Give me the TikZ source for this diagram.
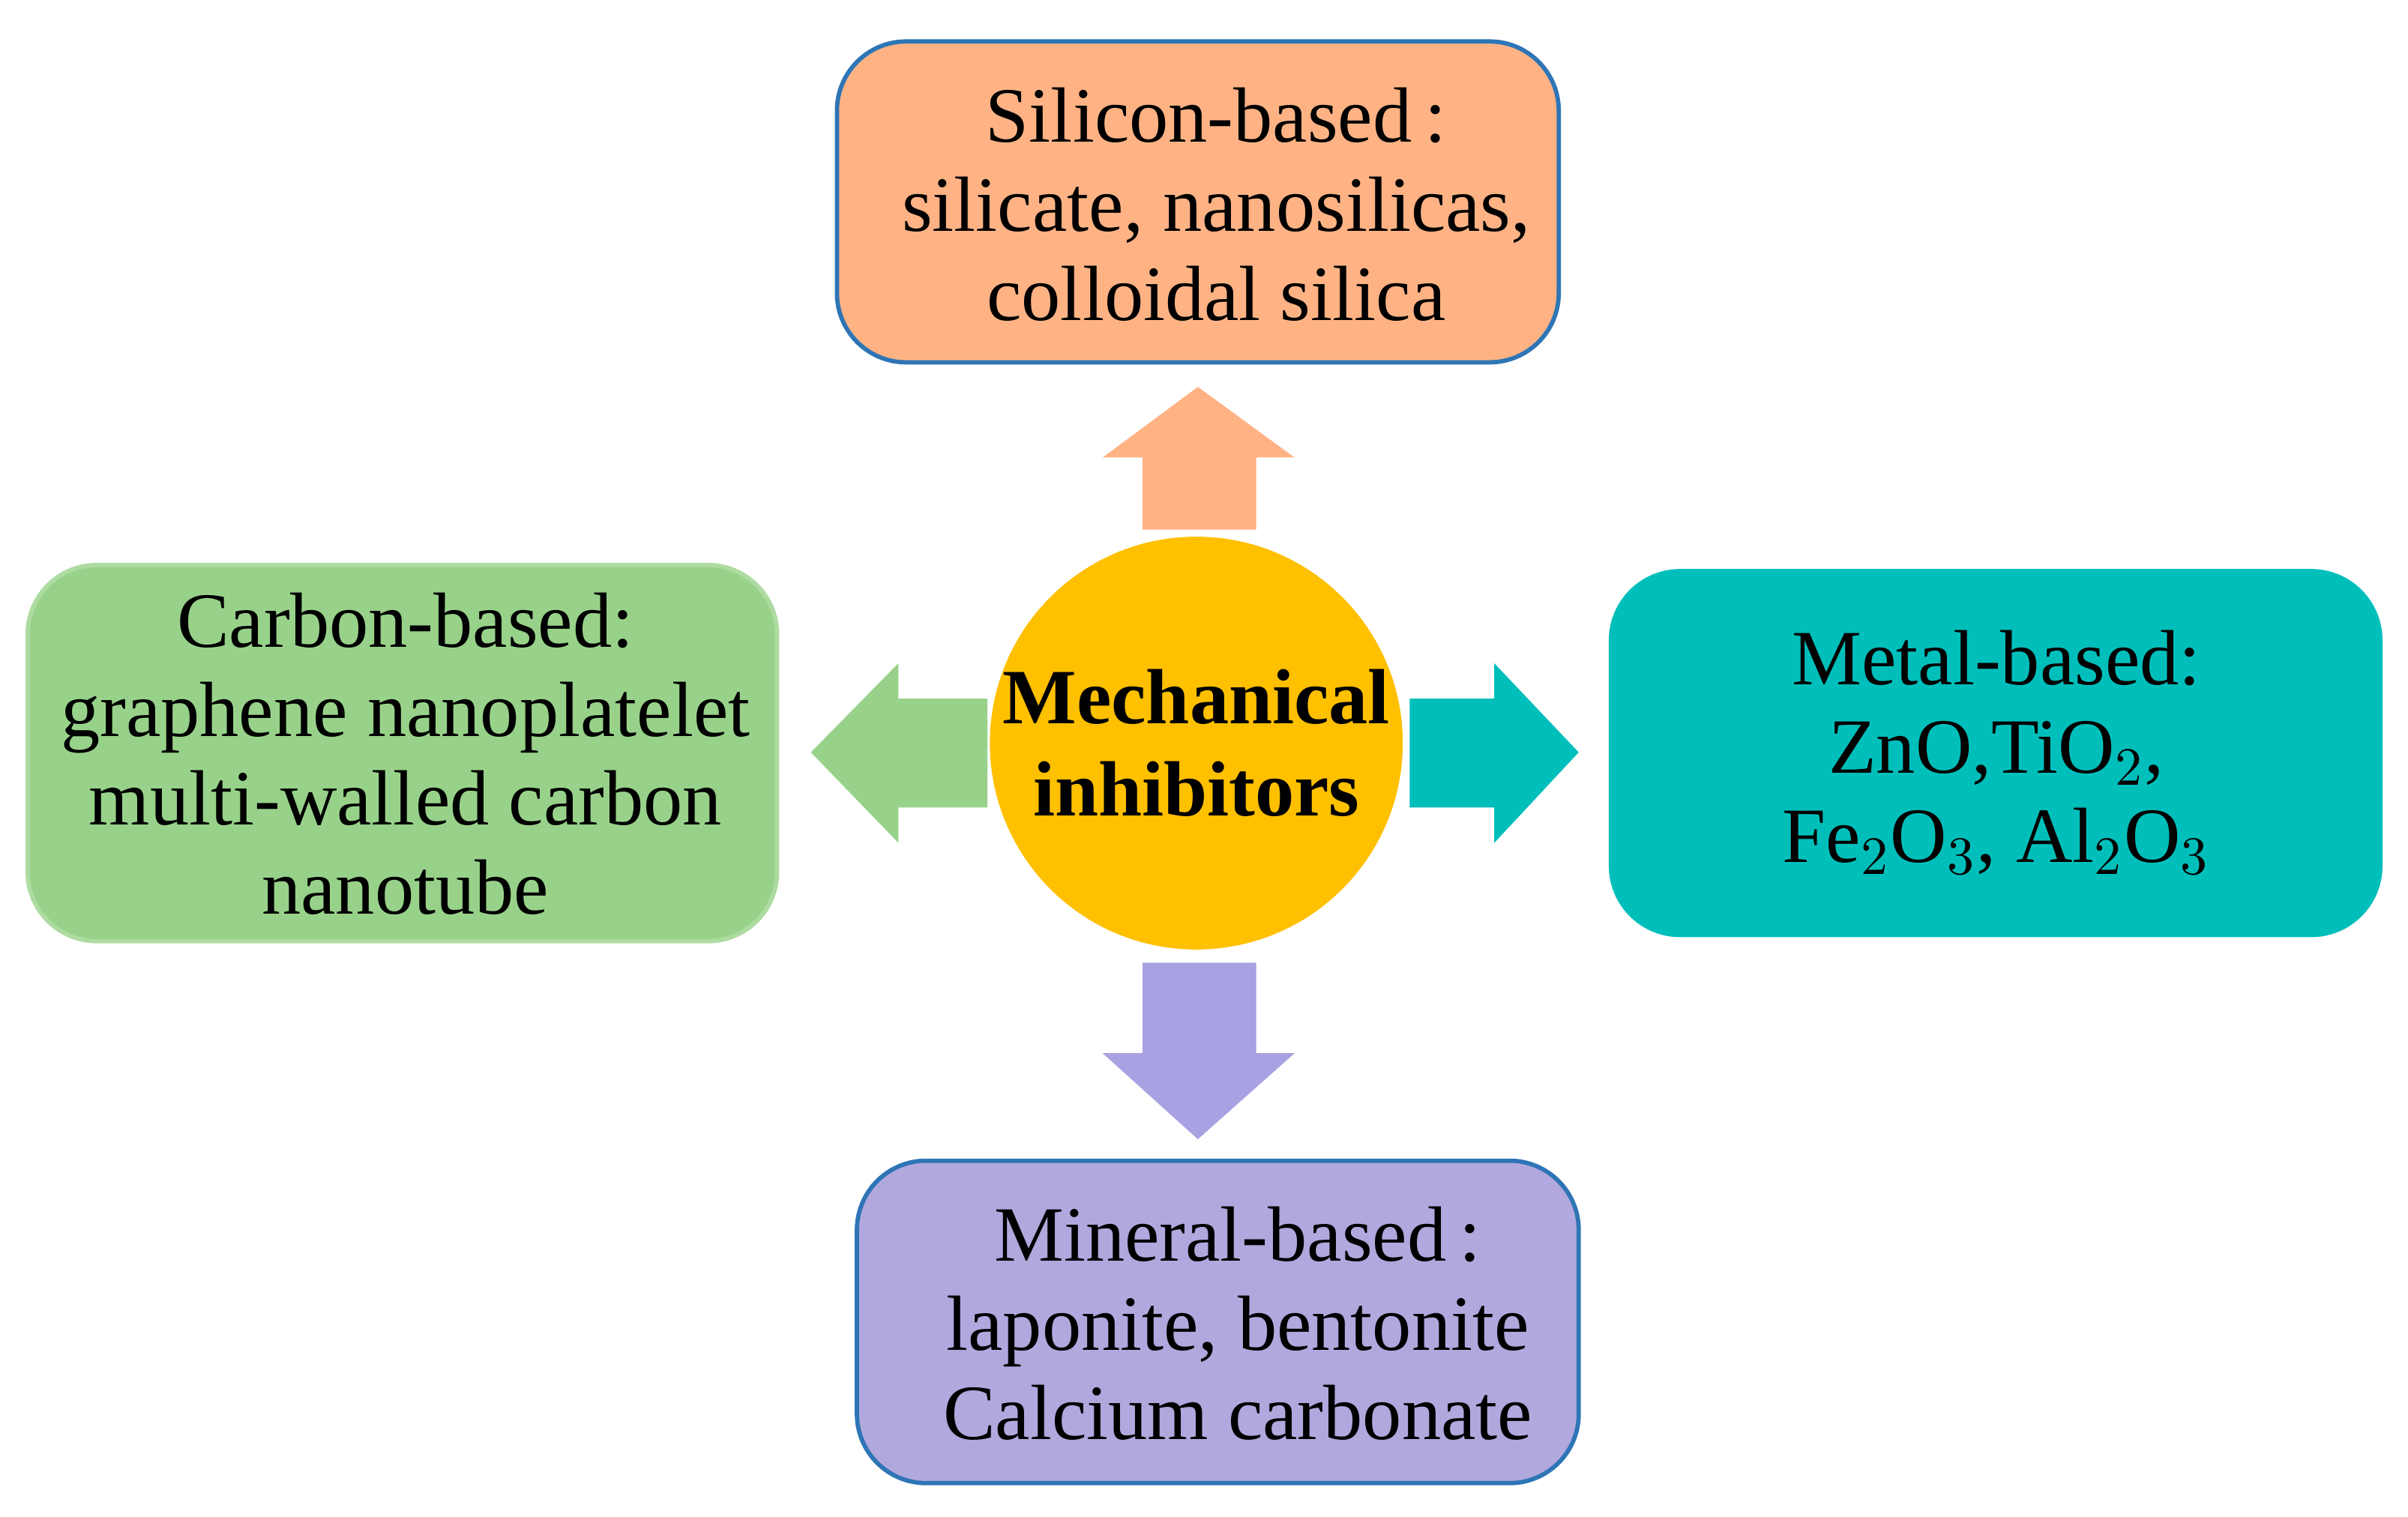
\documentclass[tikz,border=0pt]{standalone}
\usepackage{fontspec}
\setmainfont{Liberation Serif}
\begin{document}
\begin{tikzpicture}[x=0.01cm,y=-0.01cm,
  box/.style={draw=#1,line width=0.8pt,rounded corners=0.45cm,inner sep=0pt},
  txt/.style={align=center,font=\fontsize{14.5}{16.5}\selectfont}]
\useasboundingbox (0,0) rectangle (1568,988);
\definecolor{orng}{HTML}{FFB385}
\definecolor{grn}{HTML}{98D28A}
\definecolor{teal}{HTML}{00BFBB}
\definecolor{purp}{HTML}{B1A8DE}
\definecolor{purpa}{HTML}{A8A2E2}
\definecolor{gold}{HTML}{FFC000}
\definecolor{bord}{HTML}{2E75B6}
% boxes
\draw[box=bord,fill=orng] (545,27) rectangle (1015,236);
\node[txt] (si) at (792,133) {Silicon-based\,:\\ silicate, nanosilicas,\\colloidal silica};
\draw[box=grn!80!white,fill=grn] (18,368) rectangle (506,613);
\node[txt] (ca) at (264,491) {Carbon-based:\\graphene nanoplatelet\\multi-walled carbon\\nanotube};
\draw[box=teal,fill=teal] (1049,372) rectangle (1550,609);
\node[txt] (me) at (1300,490) {Metal-based:\\ZnO,TiO$_2$,\\Fe$_2$O$_3$, Al$_2$O$_3$};
\draw[box=bord,fill=purp] (558,756) rectangle (1028,966);
\node[txt] (mi) at (806,862) {Mineral-based\,:\\laponite, bentonite\\Calcium carbonate};
% circle
\node[circle,fill=gold,minimum size=2.46cm,inner sep=0pt,align=center,
  font=\bfseries\fontsize{14.5}{17}\selectfont] (c) at (779,484) {Mechanical\\inhibitors};
% arrows
\fill[orng] (744,345) -- (744,298) -- (718,298) -- (780,252) -- (843,298) -- (818,298) -- (818,345) -- cycle;
\fill[grn] (643,455) -- (585,455) -- (585,432) -- (528,490) -- (585,549) -- (585,526) -- (643,526) -- cycle;
\fill[teal] (918,455) -- (973,455) -- (973,432) -- (1028,490) -- (973,549) -- (973,526) -- (918,526) -- cycle;
\fill[purpa] (744,627) -- (744,686) -- (718,686) -- (780,742) -- (843,686) -- (818,686) -- (818,627) -- cycle;
\end{tikzpicture}
\end{document}
